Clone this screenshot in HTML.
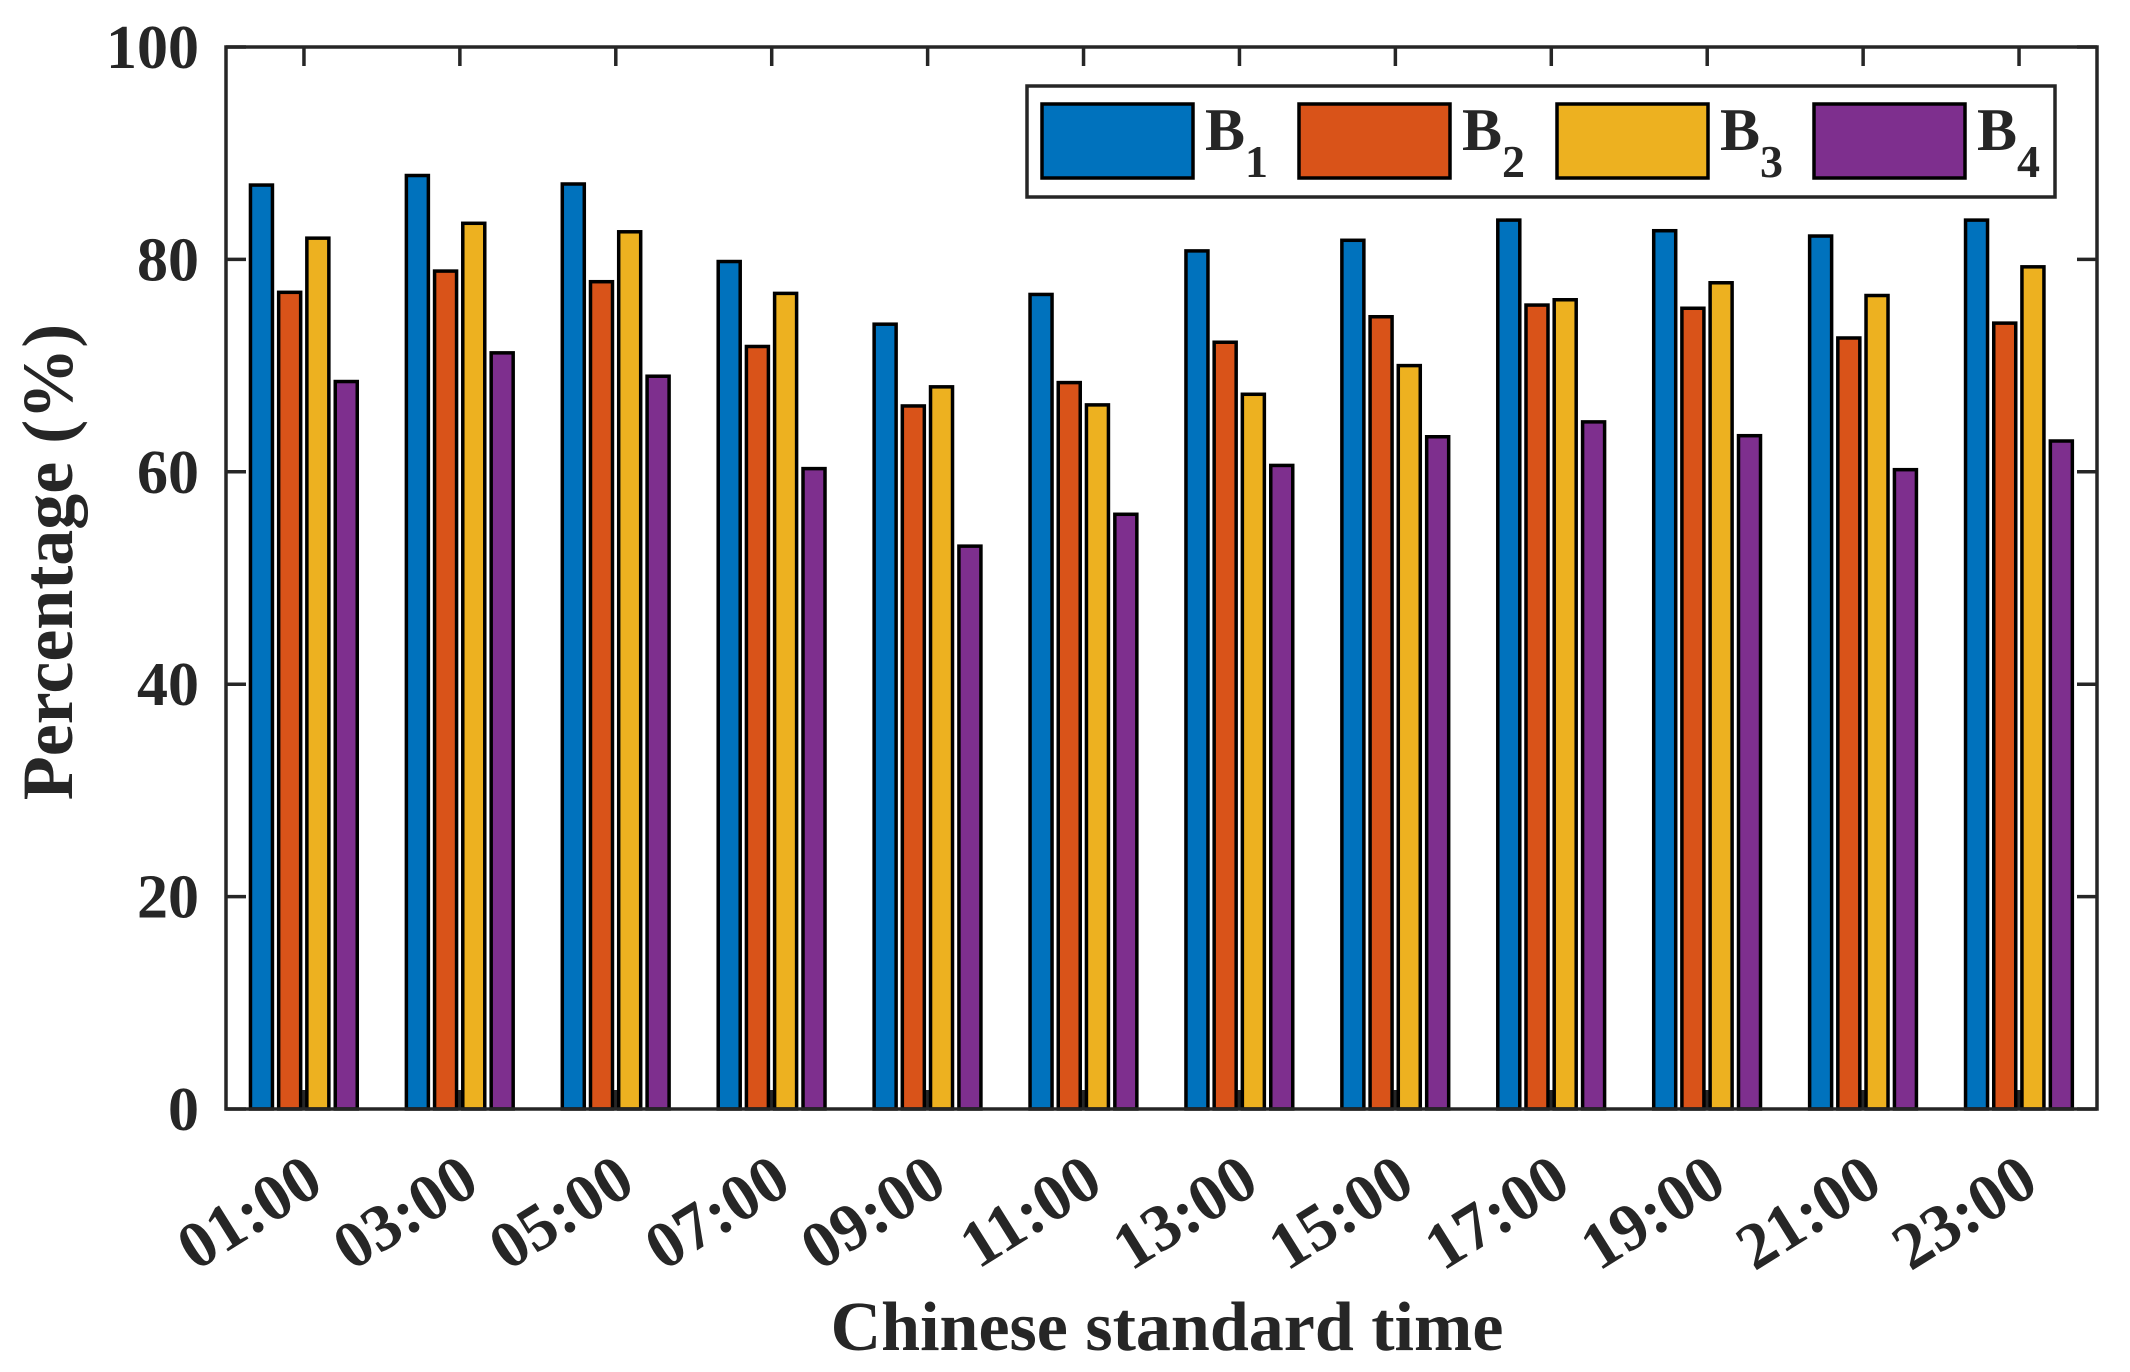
<!DOCTYPE html>
<html><head><meta charset="utf-8"><style>
html,body{margin:0;padding:0;background:#fff}
svg{display:block}
text{font-family:"Liberation Serif",serif;font-weight:bold;fill:#262626}
</style></head><body>
<svg id="chart" width="2130" height="1372" viewBox="0 0 2130 1372" xmlns="http://www.w3.org/2000/svg">
<g id="ticks"></g>
<g id="bars"></g>
<rect x="226" y="47" width="1871" height="1062" fill="none" stroke="#262626" stroke-width="3.5"/>
<g id="labels"></g>
<text x="1167" y="1350" font-size="70" text-anchor="middle">Chinese standard time</text>
<text transform="translate(72,562) rotate(-90)" font-size="72" text-anchor="middle">Percentage (%)</text>
<g>
<rect x="1027" y="86" width="1028" height="111" fill="#fff" stroke="#262626" stroke-width="3.5"/>
<g id="legend-items"></g>
</g>
</svg>
<script>
const categories = ["01:00","03:00","05:00","07:00","09:00","11:00","13:00","15:00","17:00","19:00","21:00","23:00"];
const seriesNames = ["1","2","3","4"];
const b1 = [87.0,87.9,87.1,79.8,73.9,76.7,80.8,81.8,83.7,82.7,82.2,83.7];
const b2 = [76.9,78.9,77.9,71.8,66.2,68.4,72.2,74.6,75.7,75.4,72.6,74.0];
const b3 = [82.0,83.4,82.6,76.8,68.0,66.3,67.3,70.0,76.2,77.8,76.6,79.3];
const b4 = [68.5,71.2,69.0,60.3,53.0,56.0,60.6,63.3,64.7,63.4,60.2,62.9];
const yTicks = [0,20,40,60,80,100];

const series = [b1,b2,b3,b4];
const colors = ["#0072BD","#D95319","#EDB120","#7E2F8E"];
const NS = "http://www.w3.org/2000/svg";
const X0 = 226, X1 = 2097, Y0 = 1109, Y1 = 47;
const unit = (X1 - X0) / categories.length;
function xScale(i){ return X0 + unit * (i + 0.5); }
function yScale(v){ return Y0 - (v / 100) * (Y0 - Y1); }
function mk(tag, attrs, parent){ const e = document.createElementNS(NS, tag); for (const k in attrs) e.setAttribute(k, attrs[k]); parent.appendChild(e); return e; }

const ticksG = document.getElementById('ticks');
const barsG = document.getElementById('bars');
const labG = document.getElementById('labels');

categories.forEach((c, i) => {
  const x = xScale(i);
  const t1 = mk('line', {x1:x, x2:x, y1:Y1, y2:Y1+19, stroke:'#262626', 'stroke-width':3.5}, ticksG);
  
  
  const t2 = mk('line', {x1:x, x2:x, y1:Y0, y2:Y0-19, stroke:'#262626', 'stroke-width':3.5}, ticksG);
  
  
  const lb = mk('text', {'font-size':66, 'text-anchor':'end', transform:`translate(${x+22},1190) rotate(-32)`}, labG);
  lb.textContent = c;
  
  
});

yTicks.forEach(v => {
  const y = yScale(v);
  const a = mk('line', {x1:X0, x2:X0+20, y1:y, y2:y, stroke:'#262626', 'stroke-width':3.5}, ticksG);
  
  
  const b = mk('line', {x1:X1, x2:X1-20, y1:y, y2:y, stroke:'#262626', 'stroke-width':3.5}, ticksG);
  
  
  const lb = mk('text', {x:199, y:y+21, 'font-size':62, 'text-anchor':'end'}, labG);
  lb.textContent = v;
  
  
});

const offsets = [-42.5, -14.3, 13.9, 42.3];
const bw = 22;
series.forEach((s, k) => {
  s.forEach((v, i) => {
    const cx = xScale(i) + offsets[k];
    const y = yScale(v);
    const r = mk('rect', {x:cx-bw/2, y:y, width:bw, height:Y0-y, fill:colors[k], stroke:'#000', 'stroke-width':3.5}, barsG);
    
    
  });
});

const legG = document.getElementById('legend-items');
const legX = [1042, 1299, 1557, 1814];
seriesNames.forEach((n, k) => {
  const sw = mk('rect', {x:legX[k], y:104, width:151, height:74, fill:colors[k], stroke:'#000', 'stroke-width':3.5}, legG);
  
  
  const t = mk('text', {x:legX[k]+163, y:150, 'font-size':60}, legG);
  
  
  t.textContent = 'B';
  const sub = mk('tspan', {dy:27, 'font-size':46}, t);
  sub.textContent = n;
});
</script>
</body></html>
